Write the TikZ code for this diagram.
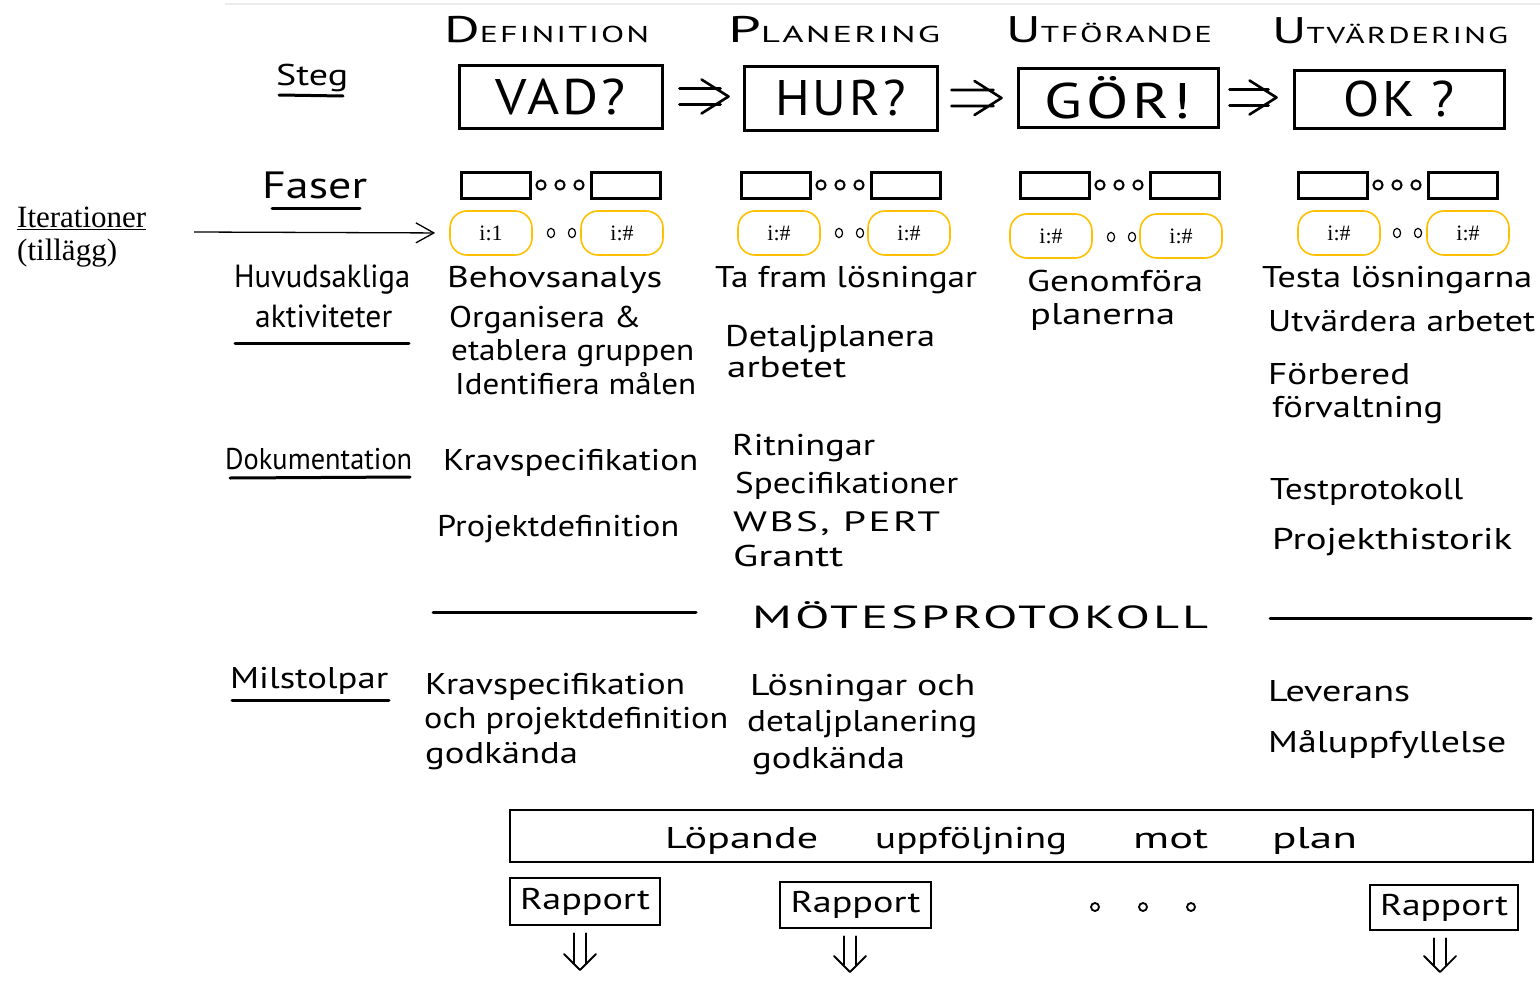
\documentclass[tikz,border=0pt]{standalone}
\usepackage{fontspec}
\setmainfont{PT Sans}
\newfontfamily\tms{Liberation Serif}
\newfontfamily\capsf[LetterSpace=6]{PT Sans}
\usetikzlibrary{arrows.meta,calc}
% stretch a text horizontally to a given width, keeping its height
\newlength\natw
\newcommand\W[2]{\settowidth\natw{#2}\pgfmathsetmacro\wsc{#1/\natw}\scalebox{\wsc}[1]{#2}}
\newcommand\hdr[2]{{\fontsize{37}{37}\selectfont #1}{\fontsize{23}{23}\selectfont #2}}
% hand-drawn double arrows: rightwards from #1 to #2, downwards from #1 to #2
\newcommand\rimp[2]{\draw[dblarrow] ($(#1)+(0,-8)$) -- ($(#2)+(-8,-8)$) ($(#1)+(0,8)$) -- ($(#2)+(-8,8)$)
  ($(#2)+(-27,-17)$) -- (#2) -- ($(#2)+(-27,17)$);}
\newcommand\dimp[2]{\draw[dblarrowthin] ($(#1)+(-6,0)$) -- ($(#2)+(-6,-6)$) ($(#1)+(6,0)$) -- ($(#2)+(6,-6)$)
  ($(#2)+(-16,-16)$) -- (#2) -- ($(#2)+(16,-16)$);}
\definecolor{itercol}{HTML}{FFC000}
\begin{document}
\begin{tikzpicture}[x=1pt,y=-1pt,
  hw/.style={anchor=base west, inner sep=0pt, font=\fontsize{30}{34}\selectfont},
  hdrtext/.style={anchor=base west, inner sep=0pt, font=\capsf},
  stepbox/.style={draw, line width=3pt, inner sep=0pt, font=\capsf\fontsize{50}{50}\selectfont},
  phasebox/.style={draw, line width=3pt, minimum width=69pt, minimum height=26pt, inner sep=0pt},
  phasedot/.style={line width=2pt},
  iterbox/.style={draw=itercol, line width=1.6pt, rounded corners=17pt, minimum width=82pt, minimum height=44pt, inner sep=0pt, font=\tms\fontsize{22}{22}\selectfont},
  iterdot/.style={line width=1.2pt},
  uline/.style={line width=3pt, line cap=round},
  dblarrow/.style={line width=2.6pt, line cap=round, line join=round},
  dblarrowthin/.style={line width=1.8pt, line cap=round, line join=round},
  rapbox/.style={draw, line width=2.5pt, inner sep=0pt, font=\fontsize{30}{34}\selectfont},
]
\useasboundingbox (0,0) rectangle (1540,985);
\fill[white] (0,0) rectangle (1540,985);
\draw[black!8, line width=1.5pt] (225,4) -- (1540,4);

% ---- phase headings ----
\node[hdrtext] (hdef) at (444,42) {\W{205}{\hdr{D}{EFINITION}}};
\node[hdrtext] (hplan) at (728,42) {\W{212}{\hdr{P}{LANERING}}};
\node[hdrtext] (hutf) at (1006,42) {\W{206}{\hdr{U}{TFÖRANDE}}};
\node[hdrtext] (hutv) at (1272,43) {\W{236}{\hdr{U}{TVÄRDERING}}};

% ---- steps ----
\node[hw] (steg) at (276,85) {\W{72}{Steg}};
\draw[uline] (279,95) -- (343,96);

\node[stepbox, minimum width=203pt, minimum height=63pt] (vad) at (560.5,96.5) {\W{131}{VAD?}};
\node[stepbox, minimum width=193pt, minimum height=64pt] (hur) at (840.5,98) {\W{131}{HUR?}};
\node[stepbox, minimum width=200pt, minimum height=59pt] (gor) at (1118,97.5) {\W{147}{GÖR!}};
\node[stepbox, minimum width=210pt, minimum height=58pt] (ok) at (1399,99) {\W{112}{OK ?}};

\coordinate (s1a) at ([xshift=16pt]vad.east);
\coordinate (s1b) at ([xshift=-14pt]s1a -| hur.west);
\coordinate (s2a) at ([xshift=13pt]hur.east);
\coordinate (s2b) at ([xshift=-15pt]s2a -| gor.west);
\coordinate (s3a) at ([xshift=10pt]gor.east);
\coordinate (s3b) at ([xshift=-16pt]s3a -| ok.west);
\rimp{s1a}{s1b}
\rimp{s2a}{s2b}
\rimp{s3a}{s3b}

% ---- phases ----
\node[hw, font=\fontsize{38}{40}\selectfont] (faser) at (262,198) {\W{105}{Faser}};
\draw[uline] (272,208) -- (360,208);

\foreach \n/\x in {def/461, plan/741, utf/1020, utv/1298}{
  \node[phasebox] (\n a) at (\x+34.5,185) {};
  \node[phasebox] (\n b) at (\x+164.5,185) {};
  \foreach \d in {80,99,118}
    \draw[phasedot] (\x+\d,185) circle (4.6pt);
}

% ---- iterations ----
\node[anchor=base west, inner sep=0pt, font=\tms\fontsize{31}{31}\selectfont] (iter) at (17,227) {\underline{Iterationer}};
\node[anchor=base west, inner sep=0pt, font=\tms\fontsize{31}{31}\selectfont] (tillagg) at (17,260) {(tillägg)};
\coordinate (iterstart) at (194,232);

\node[iterbox] (idef1) at (491,233) {i:1};
\node[iterbox] (idef2) at (622,233) {i:\#};
\node[iterbox] (iplan1) at (779,233) {i:\#};
\node[iterbox] (iplan2) at (909,233) {i:\#};
\node[iterbox] (iutf1) at (1051,236) {i:\#};
\node[iterbox] (iutf2) at (1181,236) {i:\#};
\node[iterbox] (iutv1) at (1339,233) {i:\#};
\node[iterbox] (iutv2) at (1468,233) {i:\#};
\foreach \x/\y in {551/233, 572/233, 839/233, 860/233, 1111/237, 1132/237, 1397/233, 1418/233}
  \draw[iterdot] (\x,\y) ellipse (3.6pt and 4.6pt);

\draw[line width=1.3pt, -{Straight Barb[length=18pt, width=20pt, line width=1.3pt]}, shorten >=14pt] (iterstart) -- (idef1.west);

% ---- activities ----
\node[hw, font=\fontsize{32}{34}\selectfont] (huvud) at (234,287) {\W{176}{Huvudsakliga}};
\node[hw, font=\fontsize{32}{34}\selectfont] (aktiv) at (255,327) {\W{137}{aktiviteter}};
\draw[uline] (235,343) -- (409,343);

\node[hw] (a1) at (447,287) {\W{215}{Behovsanalys}};
\node[hw] (a2) at (449,327) {\W{192}{Organisera \&}};
\node[hw] (a3) at (451,360) {\W{243}{etablera gruppen}};
\node[hw] (a4) at (455,394) {\W{241}{Identifiera målen}};

\node[hw] (b1) at (715,287) {\W{262}{Ta fram lösningar}};
\node[hw] (b2) at (725,346) {\W{210}{Detaljplanera}};
\node[hw] (b3) at (727,377) {\W{119}{arbetet}};

\node[hw] (c1) at (1027,291) {\W{176}{Genomföra}};
\node[hw] (c2) at (1030,324) {\W{145}{planerna}};

\node[hw] (d1) at (1262,287) {\W{270}{Testa lösningarna}};
\node[hw] (d2) at (1268,331) {\W{267}{Utvärdera arbetet}};
\node[hw] (d3) at (1268,384) {\W{142}{Förbered}};
\node[hw] (d4) at (1272,417) {\W{171}{förvaltning}};

% ---- documentation ----
\node[hw] (dok) at (225,469) {\W{187}{Dokumentation}};
\draw[uline] (230,478) -- (410,477);

\node[hw] (e1) at (443,470) {\W{255}{Kravspecifikation}};
\node[hw] (e2) at (437,536) {\W{242}{Projektdefinition}};

\node[hw] (f1) at (732,455) {\W{143}{Ritningar}};
\node[hw] (f2) at (735,493) {\W{223}{Specifikationer}};
\node[hw, font=\capsf\fontsize{28}{30}\selectfont] (f3) at (733,531) {\W{207}{WBS, PERT}};
\node[hw] (f4) at (733,566) {\W{110}{Grantt}};

\node[hw] (g1) at (1270,499) {\W{193}{Testprotokoll}};
\node[hw] (g2) at (1272,549) {\W{240}{Projekthistorik}};

% ---- meeting minutes ----
\draw[uline] (433,612) -- (696,612);
\node[hw, font=\capsf\fontsize{32}{34}\selectfont] (motes) at (752,628) {\W{456}{MÖTESPROTOKOLL}};
\draw[uline] (1270,618) -- (1531,618);

% ---- milestones ----
\node[hw] (mil) at (230,688) {\W{158}{Milstolpar}};
\draw[uline] (232,700) -- (389,700);

\node[hw] (h1) at (425,694) {\W{260}{Kravspecifikation}};
\node[hw] (h2) at (424,728) {\W{304}{och projektdefinition}};
\node[hw] (h3) at (425,763) {\W{153}{godkända}};

\node[hw] (k1) at (750,695) {\W{225}{Lösningar och}};
\node[hw] (k2) at (747,731) {\W{230}{detaljplanering}};
\node[hw] (k3) at (752,768) {\W{153}{godkända}};

\node[hw] (l1) at (1268,701) {\W{142}{Leverans}};
\node[hw] (l2) at (1268,752) {\W{238}{Måluppfyllelse}};

% ---- follow-up ----
\node[draw, line width=2.5pt, minimum width=1023pt, minimum height=52pt, inner sep=0pt] (plan) at (1021.5,836) {};
\node[hw] (w1) at (665,848) {\W{153}{Löpande}};
\node[hw] (w2) at (875,848) {\W{192}{uppföljning}};
\node[hw] (w3) at (1133,848) {\W{75}{mot}};
\node[hw] (w4) at (1272,848) {\W{85}{plan}};

\node[rapbox, minimum width=150pt, minimum height=47pt] (r1) at (585,901.5) {\W{130}{Rapport}};
\node[rapbox, minimum width=151pt, minimum height=46pt] (r2) at (855.5,905) {\W{130}{Rapport}};
\node[rapbox, minimum width=148pt, minimum height=45pt] (r3) at (1444,907.5) {\W{128}{Rapport}};
\foreach \x in {1095,1143,1191}
  \draw[line width=1.8pt] (\x,907) circle (4pt);

\coordinate (o1) at (580,970);
\coordinate (o2) at (850,972);
\coordinate (o3) at (1440,972);
\coordinate (t1) at ([yshift=-7pt]r1.south -| o1);
\coordinate (t2) at ([yshift=-7pt]r2.south -| o2);
\coordinate (t3) at ([yshift=-7pt]r3.south -| o3);
\dimp{t1}{o1}
\dimp{t2}{o2}
\dimp{t3}{o3}
\end{tikzpicture}
\end{document}
